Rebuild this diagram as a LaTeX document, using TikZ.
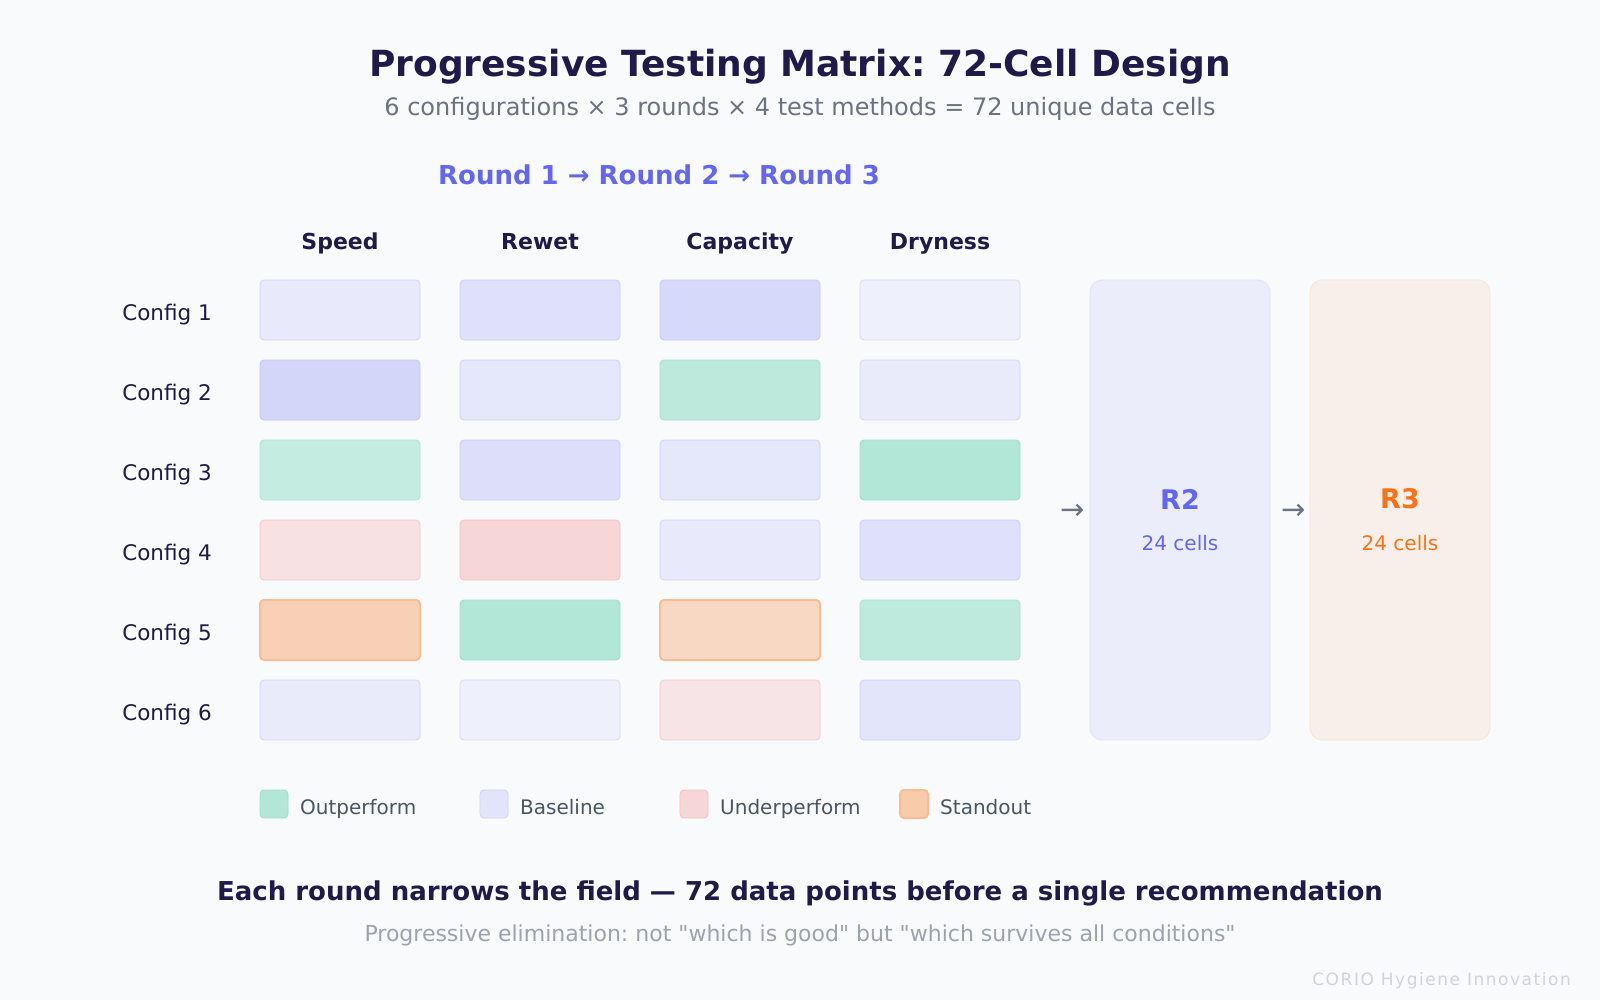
\documentclass[tikz,border=0pt]{standalone}
\usepackage{fontspec}
\setmainfont{DejaVu Sans}[Ligatures=TeXOff]
\frenchspacing
\usetikzlibrary{positioning}

\definecolor{bgc}{HTML}{F8FAFC}
\definecolor{navy}{HTML}{1E1B4B}
\definecolor{slate}{HTML}{6B7280}
\definecolor{ink}{HTML}{4B5563}
\definecolor{mist}{HTML}{9CA3AF}
\definecolor{faint}{HTML}{D1D2DC}
\definecolor{cb}{HTML}{6366F1}
\definecolor{cg}{HTML}{10B981}
\definecolor{cr}{HTML}{EF4444}
\definecolor{co}{HTML}{F97316}

\newcommand{\pxfont}[1]{\fontsize{#1}{#1}\selectfont}

\tikzset{
  txt/.style={inner sep=0pt, font=\pxfont{#1}},
  cell/.style={rectangle, rounded corners=4pt, minimum width=160pt,
    minimum height=60pt, inner sep=0pt, line width=0.8pt},
  swatch/.style={rectangle, rounded corners=4pt, minimum width=28pt,
    minimum height=28pt, inner sep=0pt, line width=0.8pt},
  tb/.style={fill=cb!#1!bgc, draw=cb!#1!bgc!85!cb},
  tg/.style={fill=cg!#1!bgc, draw=cg!#1!bgc!85!cg},
  tr/.style={fill=cr!#1!bgc, draw=cr!#1!bgc!85!cr},
  to/.style={fill=co!#1!bgc, draw=co!45!bgc, line width=2pt},
  roundbox/.style={rectangle, rounded corners=12pt, minimum width=180pt,
    minimum height=460pt, inner sep=0pt, line width=0.8pt},
}

\begin{document}
\begin{tikzpicture}[x=1pt, y=-1pt]

  % --- Canvas ---
  \fill[bgc] (0,0) rectangle (1600,1000);
  \useasboundingbox (0,0) rectangle (1600,1000);

  % --- Title ---
  \node[txt=36, font=\bfseries\pxfont{36}, text=navy] (title) at (800,67)
    {Progressive Testing Matrix: 72-Cell Design};
  \node[txt=24, text=slate] (subtitle) at (800,109)
    {6 configurations × 3 rounds × 4 test methods = 72 unique data cells};
  \node[txt=26, font=\bfseries\pxfont{26}, text=cb] (rounds) at (659,175)
    {Round 1 → Round 2 → Round 3};

  % --- Column headers ---
  \foreach \c/\name in {1/Speed, 2/Rewet, 3/Capacity, 4/Dryness}
    \node[txt=22, font=\bfseries\pxfont{22}, text=navy, anchor=base] (head\c)
      at ({140+200*\c},250) {\name};

  % --- Matrix cells ---
  \foreach \r/\cells in {
      1/{b/11,b/17,b/22,b/7},
      2/{b/24,b/13,g/26,b/10},
      3/{g/22,b/18,b/13,g/30},
      4/{r/14,r/20,b/11,b/17},
      5/{o/31,g/30,o/25,g/25},
      6/{b/10,b/7,r/12,b/14}} {
    \foreach \t/\v [count=\c] in \cells
      \node[cell, t\t=\v] (c-\r-\c) at ({140+200*\c},{230+80*\r}) {};
    \node[txt=21.5, text=navy, anchor=base east] (cfg\r)
      at ({212},{240+80*\r}) {Config \r};
  }

  % --- Later rounds ---
  \node[roundbox, fill=cb!9!bgc, draw=cb!16!bgc] (r2) at (1180,510) {};
  \node[roundbox, fill=co!8!bgc, draw=co!16!bgc] (r3) at (1400,510) {};
  \node[txt=27, font=\bfseries\pxfont{27}, text=cb] (r2t) at (1180,499) {R2};
  \node[txt=20, text=cb] (r2n) at (1180,543) {24 cells};
  \node[txt=27, font=\bfseries\pxfont{27}, text=co] (r3t) at (1400,499) {R3};
  \node[txt=20, text=co] (r3n) at (1400,543) {24 cells};
  \node[txt=29, text=slate] (arr1) at (1073,512) {→};
  \node[txt=29, text=slate] (arr2) at (1294,512) {→};

  % --- Legend ---
  \foreach \x/\t/\v/\name in {260/g/30/Outperform, 480/b/15/Baseline,
      680/r/20/Underperform, 900/o/35/Standout} {
    \node[swatch, t\t=\v] (key\t) at ({\x+14},804) {};
    \node[txt=20, text=ink, anchor=base west] (lab\t) at ({\x+40},814) {\name};
  }

  % --- Footer ---
  \node[txt=26, font=\bfseries\pxfont{26}, text=navy] (moral) at (800,893)
    {Each round narrows the field — 72 data points before a single recommendation};
  \node[txt=22, text=mist] (note) at (800,935)
    {Progressive elimination: not "which is good" but "which survives all conditions"};
  \node[txt=17, font=\addfontfeatures{LetterSpace=9}\pxfont{17}, text=faint,
    anchor=east] (brand) at (1571,981) {CORIO Hygiene Innovation};

\end{tikzpicture}
\end{document}
